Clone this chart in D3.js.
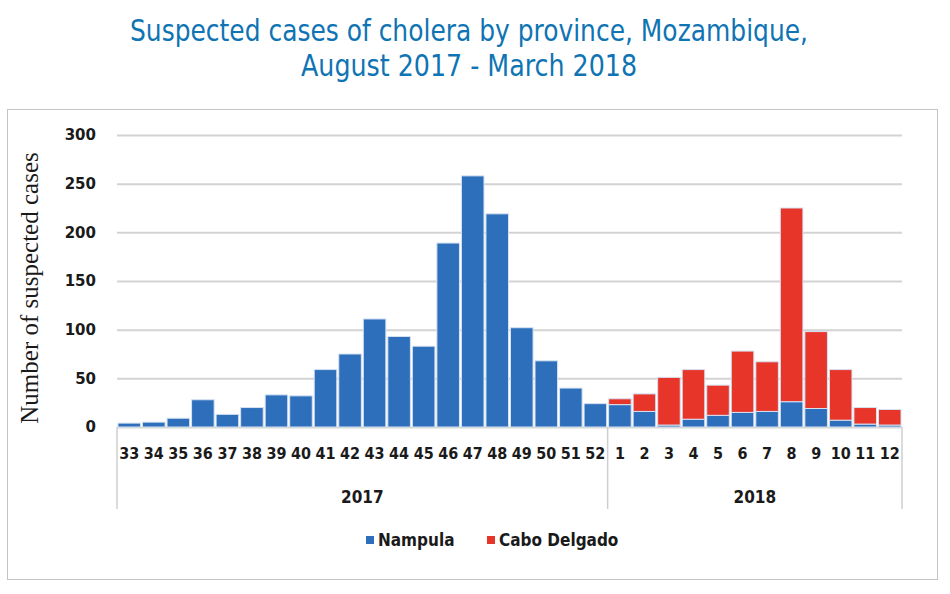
<!DOCTYPE html>
<html>
<head>
<meta charset="utf-8">
<script src="https://cdn.jsdelivr.net/npm/d3@7"></script>
<style>
  body { margin: 0; background: #fff; }
  svg { display: block; }
  .narrow { font-family: "Liberation Sans Narrow", "DejaVu Sans Condensed", sans-serif; font-weight: bold; }
</style>
</head>
<body>
<svg width="950" height="594"></svg>
<script>
// 주 번호 (2017년 33주 ~ 2018년 12주)
var weeks2017 = [33, 34, 35, 36, 37, 38, 39, 40, 41, 42, 43, 44, 45, 46, 47, 48, 49, 50, 51, 52];
var weeks2018 = [1, 2, 3, 4, 5, 6, 7, 8, 9, 10, 11, 12];
var years = ["2017", "2018"];

// 주별 의심 환자 수
var nampula = [4, 5, 9, 28, 13, 20, 33, 32, 59, 75, 111, 93, 83, 189, 258, 219, 102, 68, 40, 24,
               23, 16, 2, 8, 12, 15, 16, 26, 19, 7, 3, 2];
var caboDelgado = [0, 0, 0, 0, 0, 0, 0, 0, 0, 0, 0, 0, 0, 0, 0, 0, 0, 0, 0, 0,
                   6, 18, 49, 51, 31, 63, 51, 199, 79, 52, 17, 16];

var yTicks = [0, 50, 100, 150, 200, 250, 300];
var seriesNames = ["Nampula", "Cabo Delgado"];
var colors = ["#2e6fbc", "#e8352a"];

drawChart();

function drawChart() {
  var svg = d3.select("svg");

  // 행 데이터 만들기
  var rows = [];
  weeks2017.forEach(function(w) { rows.push({year: years[0], week: w}); });
  weeks2018.forEach(function(w) { rows.push({year: years[1], week: w}); });
  rows.forEach(function(d, i) {
    d.key = d.year + "-" + d.week;
    d["Nampula"] = nampula[i];
    d["Cabo Delgado"] = caboDelgado[i];
  });

  // 바깥 테두리
  svg.append("rect")
    .attr("x", 7.5).attr("y", 109.5)
    .attr("width", 930).attr("height", 470)
    .attr("fill", "none")
    .attr("stroke", "#c4c4c4");

  // 제목 (좁은 글꼴이 없으니 textLength로 폭을 맞춘다)
  var titleLines = [
    {text: "Suspected cases of cholera by province, Mozambique,", y: 41, len: 678},
    {text: "August 2017 - March 2018", y: 76, len: 336}
  ];
  svg.append("g").selectAll("text")
    .data(titleLines)
    .enter()
    .append("text")
    .attr("x", 469)
    .attr("y", function(d) { return d.y; })
    .attr("text-anchor", "middle")
    .attr("textLength", function(d) { return d.len; })
    .attr("lengthAdjust", "spacingAndGlyphs")
    .style("font-family", "'DejaVu Sans Condensed', 'Liberation Sans Narrow', sans-serif")
    .style("font-size", "30px")
    .attr("fill", "#0f74b3")
    .text(function(d) { return d.text; });

  var xScale = d3.scaleBand()
    .domain(rows.map(function(d) { return d.key; }))
    .range([117, 902])
    .paddingInner(0.08)
    .paddingOuter(0.04);

  var yScale = d3.scaleLinear().domain([0, 300]).range([427, 135]);

  // 눈금선
  var grid = d3.axisLeft(yScale).tickValues(yTicks).tickSize(-785).tickFormat("");
  svg.append("g").attr("transform", "translate(117,0)").call(grid)
    .call(function(g) { g.select(".domain").remove(); })
    .selectAll("line").attr("stroke", "#d3d3d3").attr("stroke-width", 2);

  // y축 라벨
  var yAxis = d3.axisLeft(yScale).tickValues(yTicks).tickSize(0).tickPadding(21);
  svg.append("g").attr("transform", "translate(117,0)").call(yAxis)
    .call(function(g) { g.select(".domain").remove(); })
    .selectAll("text")
    .style("font-family", "'DejaVu Sans', sans-serif")
    .style("font-weight", "bold")
    .style("font-size", "15px")
    .attr("fill", "#1a1a1a");

  // 누적 막대
  var stacked = d3.stack().keys(seriesNames)(rows);

  svg.append("g").selectAll("g")
    .data(stacked)
    .enter()
    .append("g")
    .attr("fill", function(d, i) { return colors[i]; })
    .selectAll("rect")
    .data(function(d) { return d.filter(function(p) { return p[1] - p[0] > 0; }); })
    .enter()
    .append("rect")
    .attr("x", function(d) { return xScale(d.data.key); })
    .attr("width", xScale.bandwidth())
    .attr("y", function(d) { return yScale(d[1]); })
    .attr("height", function(d) { return yScale(d[0]) - yScale(d[1]); })
    .attr("stroke", "#d6e2f2")
    .attr("stroke-width", 1);

  // x축 주 번호
  var xAxis = d3.axisBottom(xScale).tickSize(0).tickPadding(21)
    .tickFormat(function(k) { return k.split("-")[1]; });
  svg.append("g").attr("transform", "translate(0,427)").call(xAxis)
    .call(function(g) { g.select(".domain").remove(); })
    .selectAll("text")
    .attr("class", "narrow")
    .style("font-size", "16px")
    .attr("fill", "#1a1a1a");

  // 연도 구분선과 연도 라벨
  var half = xScale.step() * xScale.paddingInner() / 2;
  var edges = [117, xScale(years[1] + "-" + weeks2018[0]) - half, 902];
  svg.append("g").selectAll("line")
    .data(edges)
    .enter()
    .append("line")
    .attr("x1", function(d) { return d; }).attr("x2", function(d) { return d; })
    .attr("y1", 427).attr("y2", 509)
    .attr("stroke", "#cfcfcf").attr("stroke-width", 1.5);

  svg.append("g").selectAll("text")
    .data(years)
    .enter()
    .append("text")
    .attr("class", "narrow")
    .attr("x", function(d, i) { return (edges[i] + edges[i + 1]) / 2; })
    .attr("y", 503)
    .attr("text-anchor", "middle")
    .style("font-size", "17px")
    .attr("fill", "#1a1a1a")
    .text(function(d) { return d; });

  // y축 제목
  svg.append("text")
    .attr("transform", "translate(38,288) rotate(-90)")
    .attr("text-anchor", "middle")
    .style("font-family", "'Liberation Serif', serif")
    .style("font-size", "25px")
    .attr("fill", "#1a1a1a")
    .text("Number of suspected cases");

  // 범례
  var legendX = [366, 487];
  var legend = svg.append("g").selectAll("g")
    .data(seriesNames)
    .enter()
    .append("g")
    .attr("transform", function(d, i) { return "translate(" + legendX[i] + ",540)"; });
  legend.append("rect")
    .attr("x", 0).attr("y", -4)
    .attr("width", 8).attr("height", 8)
    .attr("fill", function(d, i) { return colors[i]; });
  legend.append("text")
    .attr("class", "narrow")
    .attr("x", 12).attr("y", 6)
    .style("font-size", "17px")
    .attr("fill", "#1a1a1a")
    .text(function(d) { return d; });
}
</script>
</body>
</html>
